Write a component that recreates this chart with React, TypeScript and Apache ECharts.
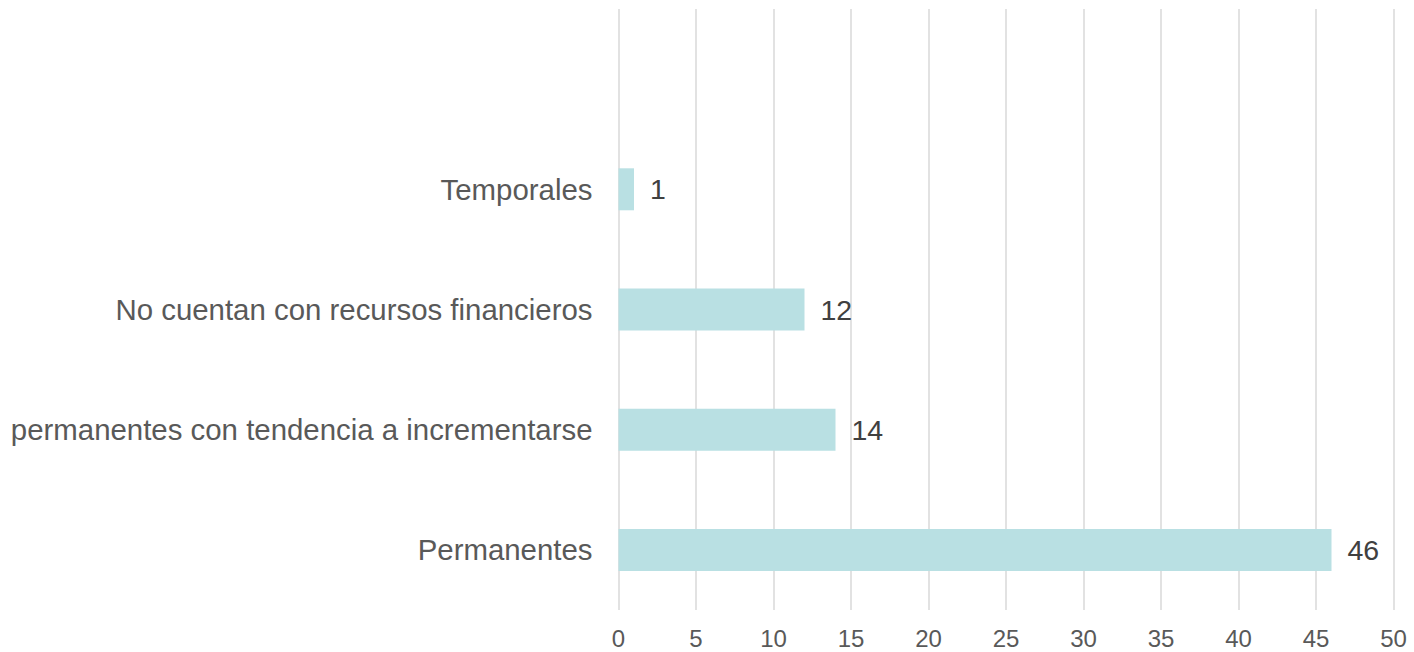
import React, { useEffect, useRef } from "react";
import * as echarts from "echarts";

const categories = ["Permanentes", "permanentes con tendencia a incrementarse", "No cuentan con recursos financieros", "Temporales", ""];
const values: (number | null)[] = [46, 14, 12, 1, null];
const xMin = 0;
const xMax = 50;
const xInterval = 5;

export default function App() {
  const ref = useRef<HTMLDivElement>(null);
  useEffect(() => {
    if (!ref.current) return;
    const chart = echarts.init(ref.current, undefined, { renderer: "svg" });
    chart.setOption({
      animation: false,
      backgroundColor: "#ffffff",
      grid: { left: 618.5, right: 20.5, top: 9, bottom: 42, containLabel: false },
      xAxis: {
        type: "value",
        min: xMin,
        max: xMax,
        interval: xInterval,
        axisLine: { show: false },
        axisTick: { show: false },
        axisLabel: { color: "#595959", fontSize: 24, fontFamily: "Liberation Sans", margin: 16 },
        splitLine: { show: true, lineStyle: { color: "#D9D9D9", width: 1.5 } },
      },
      yAxis: {
        type: "category",
        data: categories,
        axisLine: { show: false },
        axisTick: { show: false },
        axisLabel: { color: "#595959", fontSize: 29.4, fontFamily: "Liberation Sans", margin: 26 },
        splitLine: { show: false },
      },
      series: [
        {
          type: "bar",
          data: values,
          barWidth: 42,
          itemStyle: { color: "#B9E0E3" },
          label: {
            show: true,
            position: "right",
            distance: 16,
            color: "#404040",
            fontSize: 28.5,
            fontFamily: "Liberation Sans",
          },
        },
      ],
    });
    return () => chart.dispose();
  }, []);
  return <div ref={ref} style={{ position: "absolute", left: 0, top: 0, width: 1414, height: 652 }} />;
}
